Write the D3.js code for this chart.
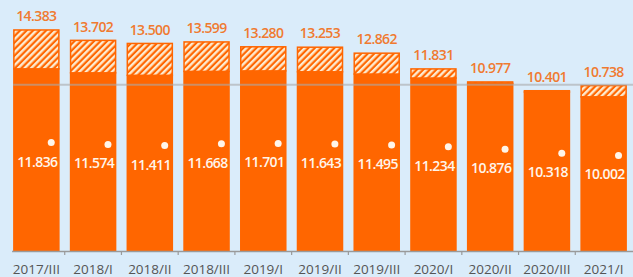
<!DOCTYPE html>
<html><head><meta charset="utf-8">
<script src="https://cdn.jsdelivr.net/npm/d3@7"></script>
<style>html,body{margin:0;padding:0;background:#daecfa;}svg{display:block;}</style>
</head><body><svg id="c" width="633" height="277"></svg>
<script>
const categories = ["2017/III","2018/I","2018/II","2018/III","2019/I","2019/II","2019/III","2020/I","2020/II","2020/III","2021/I"];
const totals = [14.383,13.702,13.500,13.599,13.280,13.253,12.862,11.831,10.977,10.401,10.738];
const solids = [11.836,11.574,11.411,11.668,11.701,11.643,11.495,11.234,10.876,10.318,10.002];
const refValue = 10.738;

const W = 633, H = 277;
const svg = d3.select("#c");
svg.append("rect").attr("width", W).attr("height", H).attr("fill", "#daecfa");

const defs = svg.append("defs");
const pat = defs.append("pattern").attr("id", "hatch").attr("patternUnits", "userSpaceOnUse")
  .attr("width", 4.6).attr("height", 4.6).attr("patternTransform", "rotate(45)");
pat.append("rect").attr("width", 4.6).attr("height", 4.6).attr("fill", "#ff6600");
pat.append("rect").attr("width", 2.4).attr("height", 4.6).attr("fill", "#fdebd0");

const x = d3.scaleBand().domain(categories).range([8, 632]).paddingInner(0.18).paddingOuter(0.09);
const y = d3.scaleLinear().domain([-0.15, 15]).range([251, 19.8]);
const yDot = d3.scaleLinear().domain([10, 12]).range([155.4, 141.4]);
const fmt = v => v.toFixed(3);
const bw = x.bandwidth();
const base = y.range()[0];
const FONT = "Open Sans, sans-serif";

const data = categories.map((c, i) => ({c, t: totals[i], s: solids[i]}));

svg.selectAll(".solid").data(data).enter().append("rect")
  .attr("x", d => x(d.c)).attr("width", bw)
  .attr("y", d => y(d.s)).attr("height", d => base - y(d.s))
  .attr("fill", "#ff6600");

svg.selectAll(".hatch").data(data).enter().append("rect")
  .attr("x", d => x(d.c) + 0.75).attr("width", bw - 1.5)
  .attr("y", d => y(d.t) + 0.75).attr("height", d => Math.max(0, y(d.s) - y(d.t)))
  .attr("fill", "url(#hatch)").attr("stroke", "#ff6600").attr("stroke-width", 1.5);

svg.append("line").attr("x1", x(categories[0])).attr("x2", W)
  .attr("y1", y(refValue)).attr("y2", y(refValue))
  .attr("stroke", "#aaaaaa").attr("stroke-opacity", 0.6).attr("stroke-width", 2);

svg.selectAll(".top").data(data).enter().append("text")
  .attr("x", d => x(d.c) + bw / 2).attr("y", d => y(d.t) - 8)
  .attr("text-anchor", "middle").attr("font-family", FONT).attr("font-weight", 600)
  .attr("font-size", 14).attr("fill", "#f07a30").attr("letter-spacing", -0.6)
  .text(d => fmt(d.t));

svg.selectAll(".dot").data(data).enter().append("circle")
  .attr("cx", d => x(d.c) + bw * 0.82).attr("cy", d => yDot(d.s)).attr("r", 3.5)
  .attr("fill", "#fff5ea");

svg.selectAll(".inner").data(data).enter().append("text")
  .attr("x", d => x(d.c) + bw / 2 + 1).attr("y", d => yDot(d.s) + 24)
  .attr("text-anchor", "middle").attr("font-family", FONT).attr("font-weight", 600)
  .attr("font-size", 14).attr("fill", "#fff5ea").attr("letter-spacing", -0.6)
  .text(d => fmt(d.s));

const axisG = svg.append("g");
axisG.append("line").attr("x1", x(categories[0]) - 1).attr("x2", W)
  .attr("y1", base + 0.5).attr("y2", base + 0.5).attr("stroke", "#9a9a9a").attr("stroke-width", 1.5);
const step = x.step();
const boundaries = categories.slice(1).map(c => x(c) - step * x.paddingInner() / 2);
axisG.selectAll(".tk").data(boundaries).enter().append("line")
  .attr("x1", d => d).attr("x2", d => d).attr("y1", base).attr("y2", base + 4)
  .attr("stroke", "#9a9a9a").attr("stroke-width", 1.2);
axisG.selectAll(".lbl").data(categories).enter().append("text")
  .attr("x", d => x(d) + bw / 2).attr("y", 274)
  .attr("text-anchor", "middle").attr("font-family", FONT)
  .attr("font-size", 13.5).attr("fill", "#555555")
  .text(d => d);
</script></body></html>
